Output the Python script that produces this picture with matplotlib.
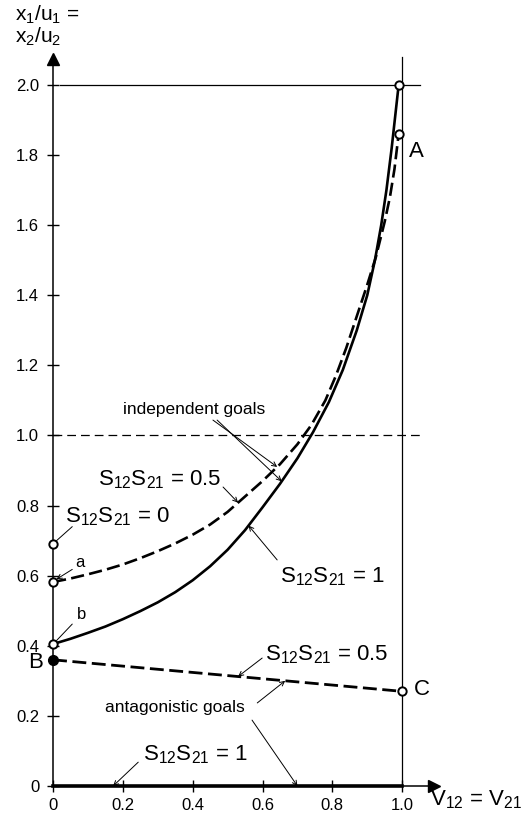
import numpy as np
import matplotlib.pyplot as plt

plt.rcParams['font.family'] = ['Liberation Sans', 'DejaVu Sans']
plt.rcParams['mathtext.fontset'] = 'custom'
plt.rcParams['mathtext.rm'] = 'Liberation Sans'
plt.rcParams['mathtext.it'] = 'Liberation Sans:italic'

v_full = [0, 0.05, 0.10, 0.15, 0.20, 0.25, 0.30, 0.35, 0.40, 0.45, 0.50, 0.55, 0.60,
          0.65, 0.70, 0.745, 0.79, 0.83, 0.87, 0.90, 0.922, 0.94, 0.955, 0.97, 0.99]
x_full = [0.405, 0.420, 0.437, 0.455, 0.476, 0.499, 0.524, 0.553, 0.587, 0.627, 0.674, 0.730, 0.795,
          0.862, 0.935, 1.010, 1.095, 1.187, 1.30, 1.40, 1.50, 1.60, 1.70, 1.82, 2.0]
v_half = [0, 0.05, 0.10, 0.15, 0.20, 0.25, 0.30, 0.35, 0.40, 0.45, 0.50, 0.55, 0.60,
          0.65, 0.70, 0.74, 0.78, 0.81, 0.84, 0.87, 0.90, 0.925, 0.95, 0.965, 0.978, 0.99]
x_half = [0.582, 0.592, 0.604, 0.617, 0.632, 0.650, 0.670, 0.692, 0.717, 0.746, 0.782, 0.826, 0.870,
          0.918, 0.975, 1.03, 1.10, 1.17, 1.25, 1.34, 1.43, 1.51, 1.61, 1.68, 1.76, 1.86]
v_ant = [0, 1.0]
x_ant = [0.36, 0.27]
x_s0 = 0.69
xticks = [0, 0.2, 0.4, 0.6, 0.8, 1.0]
yticks = [0, 0.2, 0.4, 0.6, 0.8, 1.0, 1.2, 1.4, 1.6, 1.8, 2.0]
ytick_labels = ['0', '0.2', '0.4', '0.6', '0.8', '1.0', '1.2', '1.4', '1.6', '1.8', '2.0']

fig = plt.figure(figsize=(5.32, 8.18), dpi=100)
ax = fig.add_axes([0, 0, 1, 1])
ax.set_xlim(-0.152, 1.372)
ax.set_ylim(-0.0913, 2.2425)

for s in ['top', 'right']:
    ax.spines[s].set_visible(False)
ax.spines['left'].set_position(('data', 0))
ax.spines['bottom'].set_position(('data', 0))
ax.spines['left'].set_bounds(0, 2.07)
ax.spines['bottom'].set_bounds(0, 1.08)
ax.spines['left'].set_linewidth(1.1)
ax.spines['bottom'].set_linewidth(1.1)
ax.plot([1.09], [0], marker='>', color='black', markersize=9, clip_on=False)
ax.plot([0], [2.075], marker='^', color='black', markersize=9, clip_on=False)

ax.set_xticks(xticks)
ax.set_xticklabels(['0', '0.2', '0.4', '0.6', '0.8', '1.0'])
ax.set_yticks(yticks)
ax.set_yticklabels(ytick_labels)
ax.tick_params(direction='inout', length=8, width=1, labelsize=12)
ax.tick_params(axis='y', pad=6)
ax.tick_params(axis='x', pad=5)

# reference lines
ax.plot([0.02, 1.05], [2.0, 2.0], color='black', lw=0.9)
ax.plot([0, 1.05], [1.0, 1.0], color='black', lw=0.9, dashes=(7, 4))
ax.plot([1.0, 1.0], [0, 2.08], color='black', lw=0.9)

# curves
ax.plot(v_full, x_full, color='black', lw=1.9)
ax.plot(v_half, x_half, color='black', lw=1.9, dashes=(5, 2))
ax.plot(v_ant, x_ant, color='black', lw=2.0, dashes=(5, 2))
ax.plot([0, 1.0], [0, 0], color='black', lw=2.6)

# points
ax.plot([0.99], [2.0], 'o', mfc='white', mec='black', mew=1.4, ms=6, zorder=5)
ax.plot([v_half[-1]], [x_half[-1]], 'o', mfc='white', mec='black', mew=1.4, ms=6, zorder=5)
ax.plot([0, 0, 0], [x_s0, x_half[0], x_full[0]], 'o', mfc='white', mec='black', mew=1.4, ms=6, zorder=5)
ax.plot([0], [x_ant[0]], 'o', color='black', ms=7, zorder=5)
ax.plot([v_ant[1]], [x_ant[1]], 'o', mfc='white', mec='black', mew=1.4, ms=6, zorder=5)

lab = r'S$_{12}$S$_{21}$ = '
arrow = dict(arrowstyle='->', lw=0.7, color='black', shrinkA=0, shrinkB=0, mutation_scale=8)
line = dict(arrowstyle='-', lw=0.7, color='black', shrinkA=0, shrinkB=0)

# axis titles
ax.text(-0.109, 2.200, r'x$_1$/u$_1$ =', fontsize=15, va='center', ha='left')
ax.text(-0.109, 2.136, r'x$_2$/u$_2$', fontsize=15, va='center', ha='left')
ax.text(1.08, -0.04, r'V$_{12}$ = V$_{21}$', fontsize=16, va='center', ha='left')

# point labels
ax.text(1.02, 1.81, 'A', fontsize=16, va='center', ha='left')
ax.text(-0.05, 0.352, 'B', fontsize=16, va='center', ha='center')
ax.text(1.035, 0.274, 'C', fontsize=16, va='center', ha='left')
ax.text(0.063, 0.639, 'a', fontsize=12, va='center', ha='left')
ax.annotate('', xy=(0.01, 0.59), xytext=(0.055, 0.618), arrowprops=arrow)
ax.text(0.069, 0.488, 'b', fontsize=12, va='center', ha='left')
ax.annotate('', xy=(0.01, 0.415), xytext=(0.055, 0.462), arrowprops=line)

# curve labels
ax.text(0.20, 1.073, 'independent goals', fontsize=12.5, va='center', ha='left')
ax.annotate('', xy=(0.642, np.interp(0.642, v_half, x_half)), xytext=(0.458, 1.044), arrowprops=arrow)
ax.annotate('', xy=(0.655, np.interp(0.655, v_full, x_full)), xytext=(0.47, 1.044), arrowprops=arrow)

ax.text(0.129, 0.873, lab + '0.5', fontsize=16, va='center', ha='left')
ax.annotate('', xy=(0.53, np.interp(0.53, v_half, x_half)), xytext=(0.487, 0.853), arrowprops=arrow)

ax.text(0.034, 0.767, lab + '0', fontsize=16, va='center', ha='left')
ax.annotate('', xy=(0.01, x_s0 + 0.01), xytext=(0.055, 0.74), arrowprops=line)

ax.text(0.65, 0.596, lab + '1', fontsize=16, va='center', ha='left')
ax.annotate('', xy=(0.56, np.interp(0.56, v_full, x_full)), xytext=(0.642, 0.645), arrowprops=arrow)

ax.text(0.607, 0.374, lab + '0.5', fontsize=16, va='center', ha='left')
ax.annotate('', xy=(0.53, np.interp(0.53, v_ant, x_ant)), xytext=(0.599, 0.365), arrowprops=arrow)

ax.text(0.35, 0.223, 'antagonistic goals', fontsize=12.5, va='center', ha='center')
ax.annotate('', xy=(0.665, np.interp(0.665, v_ant, x_ant)), xytext=(0.585, 0.237), arrowprops=arrow)
ax.annotate('', xy=(0.70, 0.0), xytext=(0.57, 0.188), arrowprops=arrow)

ax.text(0.258, 0.088, lab + '1', fontsize=16, va='center', ha='left')
ax.annotate('', xy=(0.172, 0.0), xytext=(0.244, 0.068), arrowprops=arrow)

fig.savefig('out.png', dpi=100)
